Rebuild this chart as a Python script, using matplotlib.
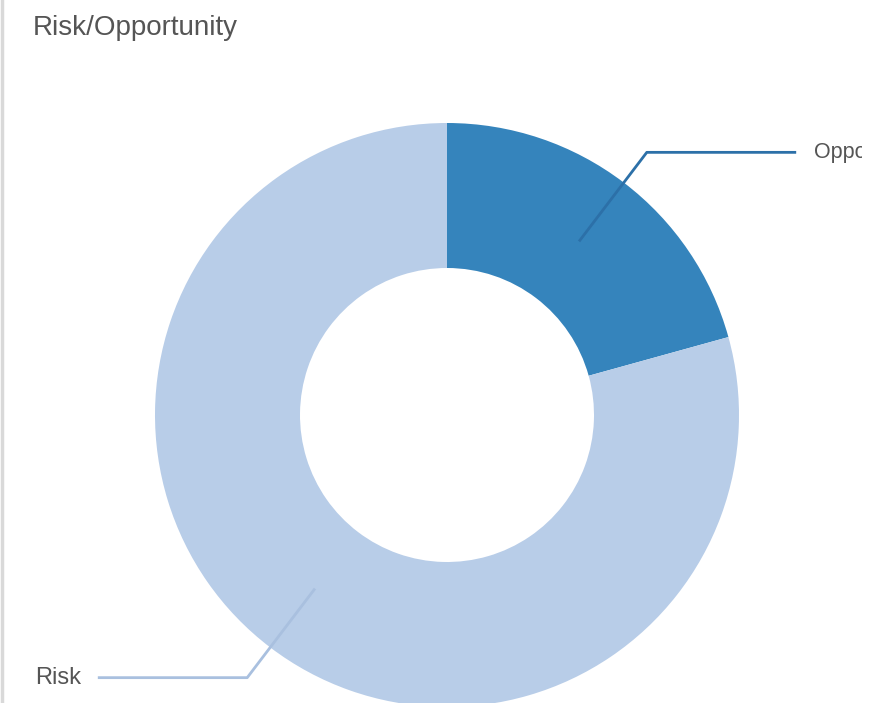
import matplotlib.pyplot as plt
import matplotlib.transforms as mtransforms
import numpy as np

labels = ["Opportunity", "Risk"]
values = [20.7, 79.3]
colors = ["#3584bc", "#b8cde8"]
line_colors = ["#2c70a8", "#a9c0df"]
title = "Risk/Opportunity"

W, H = 869, 703
fig = plt.figure(figsize=(W / 100, H / 100), dpi=100)
ax = fig.add_axes([0, 0, 1, 1])

cx, cy = 447, H - 415
r_out, r_in = 292, 147

wedges, _ = ax.pie(values, colors=colors, startangle=90, counterclock=False,
                   center=(cx, cy), radius=r_out, frame=True,
                   wedgeprops=dict(width=r_out - r_in, linewidth=0))
ax.set_xlim(0, W)
ax.set_ylim(0, H)
ax.set_aspect("equal")
ax.axis("off")

# the panel clips its content a few pixels before the right edge
clip = mtransforms.TransformedBbox(mtransforms.Bbox([[0, 0], [862, H]]),
                                   ax.transData)

# leader lines from the middle of each ring segment
r_mid = (r_out + r_in) / 2
r_elb = 330
for w, lab, col in zip(wedges, labels, line_colors):
    ang = np.deg2rad((w.theta1 + w.theta2) / 2)
    x0, y0 = cx + r_mid * np.cos(ang), cy + r_mid * np.sin(ang)
    x1, y1 = cx + r_elb * np.cos(ang), cy + r_elb * np.sin(ang)
    if x1 > cx:
        x2 = x1 + 148
        ax.plot([x0, x1, x2], [y0, y1, y1], color=col, lw=2, zorder=5,
                clip_on=False)
        t = ax.text(x2 + 19, y1, lab, ha="left", va="center", fontsize=15.5,
                    color="#555555", family="Liberation Sans")
    else:
        x2 = x1 - 148
        ax.plot([x0, x1, x2], [y0, y1, y1], color=col, lw=2, zorder=5,
                clip_on=False)
        t = ax.text(x2 - 18, y1, lab, ha="right", va="center", fontsize=17,
                    color="#555555", family="Liberation Sans")
    t.set_clip_box(clip)
    t.set_clip_on(True)

fig.text(33 / W, 1 - 28 / H, title, ha="left", va="center", fontsize=20,
         color="#555555", family="Liberation Sans")

# thin border at the left edge
fig.add_artist(plt.Line2D([0.002, 0.002], [0, 1], color="#d9d9d9", lw=2.5))

fig.savefig("out.png", dpi=100, facecolor="white")
